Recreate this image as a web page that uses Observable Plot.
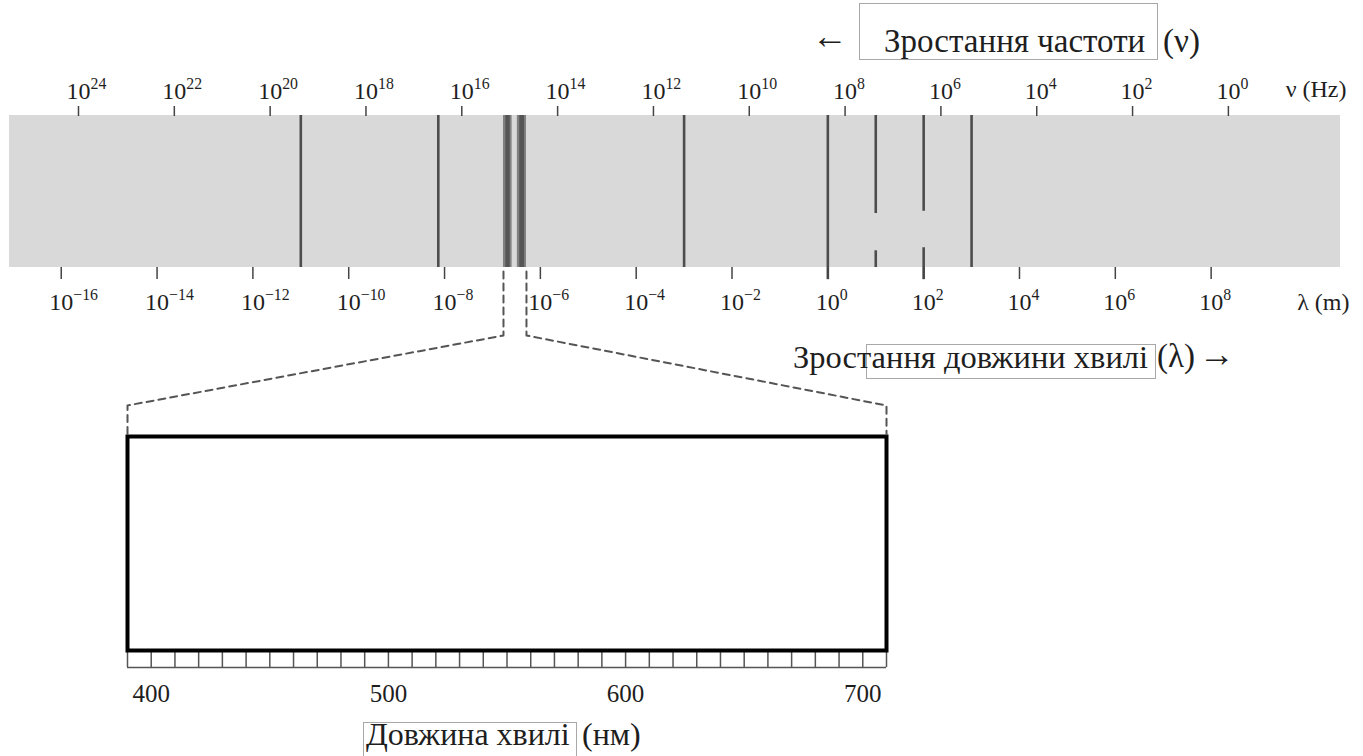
<!DOCTYPE html>
<html><head><meta charset="utf-8">
<script src="https://cdn.jsdelivr.net/npm/d3@7"></script>
<script src="https://cdn.jsdelivr.net/npm/@observablehq/plot@0.6"></script>
<style>
body{margin:0;background:#fff;}
#wrap{position:relative;width:1363px;height:756px;overflow:hidden;font-family:"Liberation Serif","Times New Roman",serif;color:#1e1e1e;}
#wrap svg{position:absolute;left:0;top:0;background:transparent;}
.t{position:absolute;white-space:nowrap;line-height:1;font-size:33px;}
.box{position:absolute;border:1px solid #a8a8a8;box-sizing:border-box;}
</style></head><body><div id="wrap"></div>
<script>
// ---- data ----
const lambdaExp = [-16, -14, -12, -10, -8, -6, -4, -2, 0, 2, 4, 6, 8];      // λ (m) tick exponents
const freqExp   = [24, 22, 20, 18, 16, 14, 12, 10, 8, 6, 4, 2, 0];            // ν (Hz) tick exponents
const nuShift   = 8.36;                                                        // log10(λ·ν) as drawn on the figure
const bandRange = [-17.08, 10.70];                                             // log10 λ span of the grey band
const boundaryX  = [-11, -8.13, -3, 0, 1, 1, 2, 2, 3];                         // region borders (log10 λ)
const boundaryY1 = [0, 0, 0, -0.08, 0.355, 0, 0.37, -0.08, 0];                 // segment bottoms (band fraction)
const boundaryY2 = [1, 1, 1, 1, 1, 0.11, 1, 0.13, 1];                          // segment tops
const visibleStripes = [[-6.77, -6.59], [-6.48, -6.29]];                       // visible light (log10 λ)
const nmRange = [390, 710];
const nmLabels = [400, 500, 600, 700];
const nmMinor = [390,400,410,420,430,440,450,460,470,480,490,500,510,520,530,540,550,
                 560,570,580,590,600,610,620,630,640,650,660,670,680,690,700,710];

const W = 1363, H = 756;
const bandTop = 115, bandBottom = 267;
const boxTop = 436, boxBottom = 650;
const serif = "Liberation Serif, Times New Roman, serif";

const boundaries = boundaryX.map((x, i) => ({x, y1: boundaryY1[i], y2: boundaryY2[i]}));

const plotA = Plot.plot({
  width: W, height: H,
  marginLeft: 9, marginRight: W - 1340, marginTop: bandTop, marginBottom: H - bandBottom,
  x: {domain: bandRange, axis: null},
  y: {domain: [0, 1], axis: null},
  style: {fontFamily: serif, color: "#1e1e1e", background: "transparent"},
  marks: [
    Plot.rect([bandRange], {x1: d => d[0], x2: d => d[1], y1: 0, y2: 1, fill: "#d9d9d9"}),
    Plot.rect(visibleStripes, {x1: d => d[0], x2: d => d[1], y1: 0, y2: 1, fill: "#808080"}),
    Plot.rect(visibleStripes, {x1: d => d[0] + 0.05, x2: d => d[1] - 0.04, y1: 0, y2: 1, fill: "#555"}),
    Plot.ruleX(boundaries, {x: "x", y1: "y1", y2: "y2", stroke: "#4d4d4d", strokeWidth: 2.6}),
    Plot.axisX({anchor: "top", ticks: freqExp.map(e => nuShift - e),
      tickFormat: v => "10^" + Math.round(nuShift - v), tickSize: 10, tickPadding: 7,
      fontSize: 24, stroke: "#444", strokeWidth: 1.5, fill: "#1e1e1e", label: null}),
    Plot.axisX({anchor: "bottom", ticks: lambdaExp,
      tickFormat: e => "10^" + e, tickSize: 12, tickPadding: 13,
      fontSize: 24, stroke: "#444", strokeWidth: 1.5, fill: "#1e1e1e", label: null}),
    Plot.text(["ν (Hz)"], {frameAnchor: "top-right", text: d => d, textAnchor: "end",
      lineAnchor: "bottom", dx: 6, dy: -19, fontSize: 24, fill: "#1e1e1e"}),
    Plot.text(["λ (m)"], {frameAnchor: "bottom-right", text: d => d, textAnchor: "end",
      lineAnchor: "bottom", dx: 9, dy: 42, fontSize: 24, fill: "#1e1e1e"})
  ]
});

const plotB = Plot.plot({
  width: W, height: H,
  marginLeft: 127, marginRight: W - 886, marginTop: boxTop, marginBottom: H - boxBottom,
  x: {domain: nmRange, axis: null},
  y: {domain: [0, 1], axis: null},
  style: {fontFamily: serif, color: "#1e1e1e", background: "transparent"},
  marks: [
    Plot.ruleY([-0.08], {x1: nmRange[0], x2: nmRange[1], stroke: "#555", strokeWidth: 1.5}),
    Plot.ruleX(nmMinor, {x: d => d, y1: -0.08, y2: 0, stroke: "#555", strokeWidth: 1.5}),
    Plot.frame({stroke: "#000", strokeWidth: 4}),
    Plot.axisX({anchor: "bottom", ticks: nmLabels, tickSize: 0, tickPadding: 34,
      fontSize: 25, fill: "#1e1e1e", label: null})
  ]
});

function supify(svg) {
  d3.select(svg).selectAll("text").each(function () {
    const m = /^10\^(.+)$/.exec(this.textContent);
    if (!m) return;
    const s = d3.select(this);
    s.text("10").attr("text-anchor", "start").attr("dx", "-0.5em");
    s.append("tspan").attr("dy", "-0.62em").attr("font-size", "0.66em").text(m[1].replace("-", "−"));
  });
}
supify(plotA);

function scaleFn(p, name) {
  const s = p.scale(name);
  return s.apply ? v => s.apply(v) : d3.scaleLinear(s.domain, s.range);
}
const xa = scaleFn(plotA, "x"), xb = scaleFn(plotB, "x");
const lt = xa(visibleStripes[0][0]), rt = xa(visibleStripes[1][1]);
const lb = xb(nmRange[0]), rb = xb(nmRange[1]);
const kneeTop = bandBottom + 68, kneeBot = boxTop - 31;
const conn = [
  {s: "L", x: lt, y: bandBottom + 4}, {s: "L", x: lt, y: kneeTop}, {s: "L", x: lb, y: kneeBot}, {s: "L", x: lb, y: boxTop - 2},
  {s: "R", x: rt, y: bandBottom + 4}, {s: "R", x: rt, y: kneeTop}, {s: "R", x: rb, y: kneeBot}, {s: "R", x: rb, y: boxTop - 2}
];
const plotC = Plot.plot({
  width: W, height: H, margin: 0,
  x: {domain: [0, W], range: [0, W], axis: null},
  y: {domain: [0, H], range: [0, H], axis: null},
  style: {background: "transparent"},
  marks: [Plot.line(conn, {x: "x", y: "y", z: "s", stroke: "#555", strokeWidth: 2, strokeDasharray: "7,5"})]
});

const wrap = document.getElementById("wrap");
wrap.append(plotA, plotB, plotC);

function addText(txt, left, top, size) {
  const d = document.createElement("div");
  d.className = "t";
  d.textContent = txt; d.style.left = left + "px"; d.style.top = top + "px";
  if (size) d.style.fontSize = size + "px";
  wrap.append(d); return d;
}
function addBox(l, t, w, h) {
  const d = document.createElement("div");
  d.className = "box";
  Object.assign(d.style, {left: l + "px", top: t + "px", width: w + "px", height: h + "px"});
  wrap.append(d);
}
addBox(859, 3, 299, 57);
addText("←", 812, 18, 36);
addText("Зростання частоти", 884, 25);
addText("(ν)", 1163, 25);

addBox(866, 344, 290, 35);
addText("Зростання довжини хвилі", 793, 341, 32.5);
addText("(λ)", 1157, 340);
addText("→", 1199, 336, 36);

addBox(363, 722, 214, 40);
addText("Довжина хвилі", 366, 718, 32);
addText("(нм)", 582, 718, 32);
</script></body></html>
